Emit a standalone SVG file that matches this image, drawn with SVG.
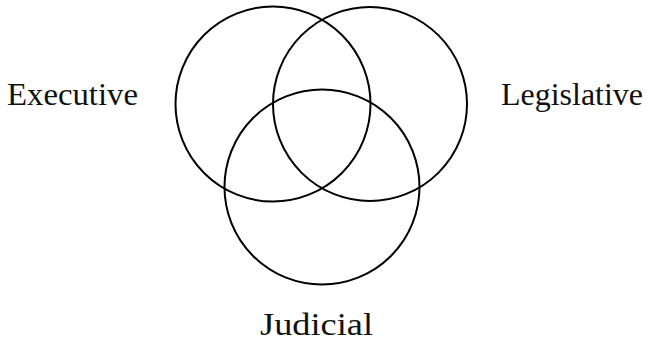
<svg xmlns="http://www.w3.org/2000/svg" width="647" height="349" viewBox="0 0 647 349">
<style>
.c{fill:none;stroke:#000;stroke-width:2}
.t{font-family:"Liberation Serif","Times New Roman",serif;font-size:32px;fill:#111}
</style>
<rect width="647" height="349" fill="#fff"/>
<g id="connectors"></g>
<g id="executive"><circle class="c" cx="273" cy="104" r="97.5"/><text class="t" x="7" y="105" textLength="131" lengthAdjust="spacingAndGlyphs">Executive</text></g>
<g id="legislative"><circle class="c" cx="370" cy="104" r="97"/><text class="t" x="501" y="105" textLength="142" lengthAdjust="spacingAndGlyphs">Legislative</text></g>
<g id="judicial"><circle class="c" cx="322" cy="187" r="97.5"/><text class="t" x="260" y="335" textLength="113" lengthAdjust="spacingAndGlyphs">Judicial</text></g>
</svg>
